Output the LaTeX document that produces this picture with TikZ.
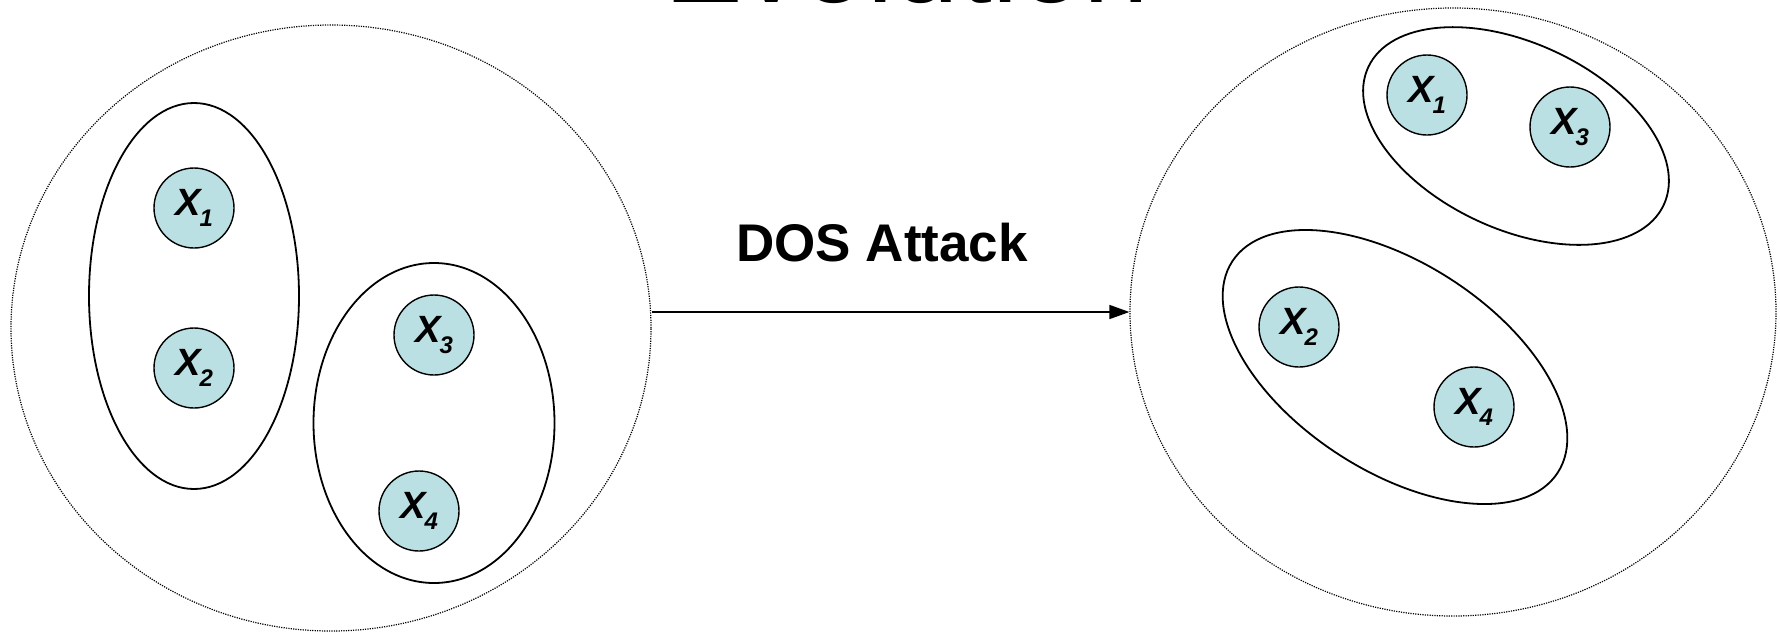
\documentclass[tikz,border=0pt]{standalone}
\usepackage{fontspec}
\setmainfont{Liberation Sans}
\usetikzlibrary{arrows.meta,shapes.geometric}
\definecolor{nodefill}{RGB}{187,224,227}
\newcommand{\xlab}[1]{X\kern-1pt\raisebox{-11pt}{\fontsize{24}{24}\selectfont #1}}
\begin{document}
\begin{tikzpicture}[x=1pt,y=-1pt,
  var/.style={circle, draw, line width=1.4pt, fill=nodefill, minimum size=80pt, inner sep=0pt,
    font=\fontsize{38}{38}\selectfont\bfseries\itshape},
  group/.style={ellipse, draw, line width=1.8pt, inner sep=0pt},
  world/.style={ellipse, draw, dash pattern=on 1.2pt off 1.2pt, line width=1.2pt, inner sep=0pt},
  conn/.style={line width=1.6pt, -{Triangle[length=20pt,width=14pt]}}]
\useasboundingbox (0,0) rectangle (1780,633);
\begin{scope}
\clip (0,0) rectangle (1780,633);
\node[anchor=base west, inner sep=0pt, font=\fontsize{118}{118}\selectfont] (title) at (664,2) {Evolution};
\end{scope}
% worlds
\node[world, minimum width=640pt, minimum height=606pt] (worldL) at (331,328) {};
\node[world, minimum width=646pt, minimum height=608pt] (worldR) at (1453,312) {};
% left groups
\node[group, minimum width=210pt, minimum height=386pt] (gL12) at (194,296) {};
\node[group, minimum width=241pt, minimum height=320pt] (gL34) at (434,423) {};
% right groups
\node[group, rotate=-25, minimum width=326pt, minimum height=186pt] (gR13) at (1516,136) {};
\node[group, rotate=-33, minimum width=388pt, minimum height=208pt] (gR24) at (1395,367) {};
% variables left
\node[var] (a1) at (194,208) {\xlab{1}};
\node[var] (a2) at (194,368) {\xlab{2}};
\node[var] (a3) at (434,335) {\xlab{3}};
\node[var] (a4) at (419,511) {\xlab{4}};
% variables right
\node[var] (b1) at (1427,95) {\xlab{1}};
\node[var] (b3) at (1570,127) {\xlab{3}};
\node[var] (b2) at (1299,327) {\xlab{2}};
\node[var] (b4) at (1474,407) {\xlab{4}};
% arrow
\draw[conn] (worldL.east |- worldR.west) -- (worldR.west);
\node[anchor=base west, inner sep=0pt, font=\fontsize{53}{53}\selectfont\bfseries] (lbl) at (736,261) {DOS Attack};
\end{tikzpicture}
\end{document}
